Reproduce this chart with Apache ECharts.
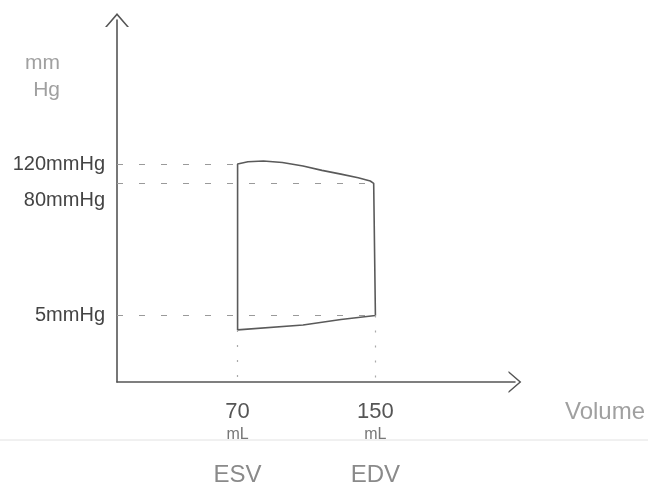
<!DOCTYPE html>
<html>
<head>
<meta charset="utf-8">
<script src="https://cdn.jsdelivr.net/npm/echarts@6/dist/echarts.min.js"></script>
<style>
  html, body { margin: 0; padding: 0; background: #fff; }
  #chart { width: 648px; height: 498px; }
</style>
</head>
<body>
<div id="chart"></div>
<script>
// pressure-volume loop
var volumeTicks = [70, 150];          // mL
var volumeNames = ['ESV', 'EDV'];
var pressureTicks = [120, 80, 5];     // mmHg

// loop, starting at EDV bottom, going round clockwise
var loopVolume = [150, 149, 147, 140, 130, 119, 108, 96, 85, 76, 70, 70, 108, 130, 150];
var loopPressure = [5, 80, 84, 90, 97, 105, 115, 124, 128, 126, 120, 3.7, 4.1, 4.6, 5];

// where each dashed guide stops on the loop
var guideEndVolume = [70, 149, 150];
var dropPressure = [3.7, 5];          // bottom of the loop at ESV / EDV

var xMin = 0, xMax = 231;
var yMin = 1.24, yMax = 2460;

var pencil = '#5a5a5a';
var faint = '#9a9a9a';
var font = 'Liberation Sans';

var loopData = loopVolume.map(function (v, i) { return [v, loopPressure[i]]; });

var guides = pressureTicks.map(function (p, i) {
  var lbl = {
    show: true,
    position: 'start',
    distance: 12,
    formatter: p + 'mmHg',
    color: '#444',
    fontSize: 20,
    fontFamily: font
  };
  // the 80 label sits a little under its line in the sketch
  if (p === 80) { lbl.formatter = '\n' + p + 'mmHg'; lbl.lineHeight = 34; }
  return [
    { coord: [xMin, p], label: lbl },
    { coord: [guideEndVolume[i], p] }
  ];
});
var drops = volumeTicks.map(function (v, i) {
  return [
    { coord: [v, dropPressure[i]], lineStyle: { type: [2, 13], color: '#aaa' }, label: { show: false } },
    { coord: [v, yMin] }
  ];
});

var chart = echarts.init(document.getElementById('chart'));
var arrow = 'path://M0,14 L12,0 L24,14 L22,14 L12,2.4 L2,14 Z';

chart.setOption({
  backgroundColor: '#fff',
  animation: false,
  grid: { left: 117, right: 133, top: 20, bottom: 116 },
  graphic: [{
    type: 'line',
    shape: { x1: 0, y1: 440, x2: 648, y2: 440 },
    style: { stroke: '#e2e2e2', lineWidth: 1 },
    silent: true
  }],
  xAxis: {
    type: 'value',
    min: xMin,
    max: xMax,
    name: 'Volume',
    nameLocation: 'end',
    nameGap: 50,
    nameTextStyle: {
      align: 'left', verticalAlign: 'top', padding: [18, 0, 0, 0],
      fontSize: 24, color: '#a0a0a0', fontFamily: font
    },
    axisLine: {
      show: true,
      symbol: ['none', arrow],
      symbolSize: [22, 14],
      lineStyle: { color: '#555', width: 1.6 }
    },
    axisTick: { show: false },
    splitLine: { show: false },
    axisLabel: {
      customValues: volumeTicks,
      margin: 18,
      fontFamily: font,
      formatter: function (v) {
        var i = volumeTicks.indexOf(v);
        return '{v|' + v + '}\n{u|mL}\n{n|' + volumeNames[i] + '}';
      },
      rich: {
        v: { fontSize: 22, color: '#555', lineHeight: 24, fontFamily: font },
        u: { fontSize: 16, color: '#777', lineHeight: 22, fontFamily: font },
        n: { fontSize: 24, color: '#8a8a8a', lineHeight: 58, fontFamily: font }
      }
    }
  },
  yAxis: {
    type: 'log',
    logBase: 10,
    min: yMin,
    max: yMax,
    name: 'mm\nHg',
    nameLocation: 'end',
    nameGap: -30,
    nameTextStyle: {
      align: 'right', verticalAlign: 'top', padding: [0, 57, 0, 0],
      fontSize: 21, lineHeight: 27, color: '#a0a0a0', fontFamily: font
    },
    axisLine: {
      show: true,
      symbol: ['none', arrow],
      symbolSize: [24, 14],
      lineStyle: { color: '#555', width: 1.6 }
    },
    axisTick: { show: false },
    axisLabel: { show: false },
    splitLine: { show: false }
  },
  series: [{
    type: 'line',
    data: loopData,
    showSymbol: false,
    symbol: 'none',
    lineStyle: { color: pencil, width: 1.6 },
    markLine: {
      silent: true,
      symbol: 'none',
      lineStyle: { type: [6, 16], color: faint, width: 1.2 },
      data: guides.concat(drops)
    }
  }]
});
</script>
</body>
</html>
